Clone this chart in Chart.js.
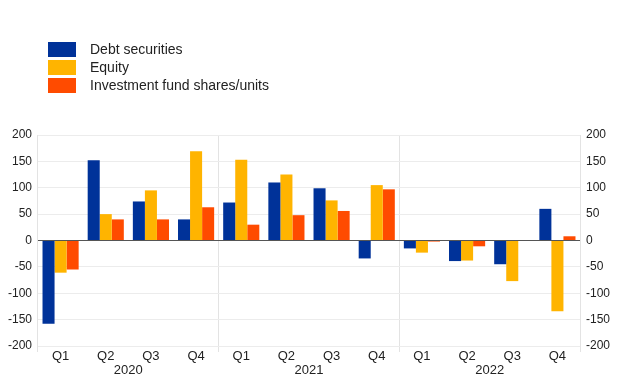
<!DOCTYPE html>
<html>
<head>
<meta charset="utf-8">
<script src="https://cdn.jsdelivr.net/npm/chart.js@4.4.0/dist/chart.umd.min.js"></script>
<style>
  html, body { margin: 0; padding: 0; background: #fff; }
  #wrap { position: relative; width: 620px; height: 387px; }
  #legend { position: absolute; left: 48px; top: 40px; font-family: "Liberation Sans", Arial, sans-serif; font-size: 14px; color: #222; }
  .item { height: 18px; line-height: 18px; display: flex; align-items: center; }
  .box { width: 28px; height: 15px; margin-right: 14px; }
</style>
</head>
<body>
<div id="wrap">
  <canvas id="myChart" width="620" height="387"></canvas>
  <div id="legend"></div>
</div>
<script>
// quarters and years
const quarters = ['Q1', 'Q2', 'Q3', 'Q4', 'Q1', 'Q2', 'Q3', 'Q4', 'Q1', 'Q2', 'Q3', 'Q4'];
const years = ['2020', '2021', '2022'];

// EUR billions
const debtSecurities = [-158, 152, 74, 40, 72, 110, 99, -34, -15, -39, -45, 60];
const equity = [-61, 50, 95, 169, 153, 125, 76, 105, -23, -38, -77, -134];
const fundShares = [-55, 40, 40, 63, 30, 48, 56, 97, -2, -11, 1, 8];

const seriesNames = ['Debt securities', 'Equity', 'Investment fund shares/units'];
const colours = ['#003299', '#FFB400', '#FF4B00'];

const font = { family: '"Liberation Sans", Arial, sans-serif', size: 12 };
const xFont = { family: font.family, size: 13 };

function yAxis(pos) {
	return {
		position: pos,
		min: -200, max: 200,
		ticks: { stepSize: 50, color: '#222', font: font, padding: 6 },
		grid: { drawTicks: false, color: ctx => ctx.tick && ctx.tick.value === 0 ? '#555' : '#ececec', lineWidth: 1 },
		border: { display: false },
		afterFit: s => { s.width = pos === 'left' ? 38 : 40; }
	};
}

const myChart = new Chart(document.getElementById('myChart'), {
	type: 'bar',
	data: {
		labels: quarters,
		datasets: [
			{ label: seriesNames[0], data: debtSecurities, backgroundColor: colours[0] },
			{ label: seriesNames[1], data: equity, backgroundColor: colours[1] },
			{ label: seriesNames[2], data: fundShares, backgroundColor: colours[2] }
		]
	},
	options: {
		responsive: false,
		animation: false,
		layout: { padding: { top: 135, left: 0, right: 0, bottom: 0 } },
		categoryPercentage: 0.8,
		barPercentage: 1,
		plugins: { legend: { display: false }, tooltip: { enabled: false } },
		scales: {
			x: {
				weight: 0,
				grid: {
					offset: true,
					tickLength: 6,
					// only the year boundaries and the two plot edges
					color: ctx => ctx.index === undefined || ctx.index % 4 === 0 ? '#e3e3e3' : 'rgba(0,0,0,0)'
				},
				border: { display: false },
				ticks: { color: '#222', font: xFont, padding: -3, maxRotation: 0, autoSkip: false },
				afterFit: s => { s.height = 17; }
			},
			x2: {
				type: 'category',
				labels: years,
				position: 'bottom',
				weight: 1,
				offset: true,
				grid: { display: false },
				border: { display: false },
				ticks: { color: '#222', font: xFont, padding: -8, maxRotation: 0 },
				afterFit: s => { s.height = 24; }
			},
			y: yAxis('left'),
			y2: yAxis('right')
		}
	}
});

// legend, stacked vertically at the top left
const legend = document.getElementById('legend');
seriesNames.forEach((name, i) => {
	legend.innerHTML += `<div class="item"><span class="box" style="background:${colours[i]}"></span>${name}</div>`;
});
</script>
</body>
</html>
